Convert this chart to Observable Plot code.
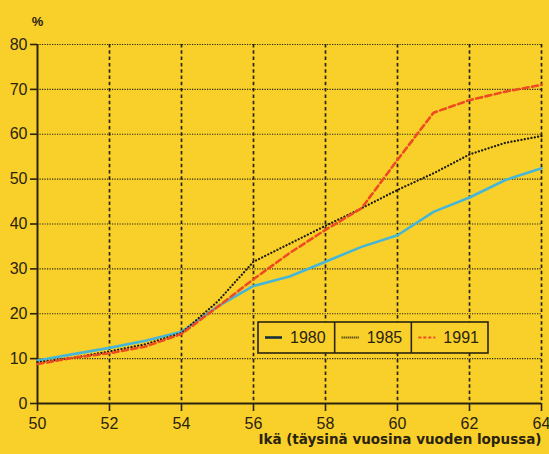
<!DOCTYPE html>
<html>
<head>
<meta charset="utf-8">
<script src="https://cdn.jsdelivr.net/npm/d3@7"></script>
<script src="https://cdn.jsdelivr.net/npm/@observablehq/plot@0.6"></script>
<style>
  html, body { margin: 0; padding: 0; background: #F9D02A; }
  #wrap { position: relative; width: 549px; height: 454px; }
  #legend { position: absolute; left: 0; top: 0; pointer-events: none; }
</style>
</head>
<body>
<div id="wrap"></div>
<script>
// ---- data ----
const ages = [50, 51, 52, 53, 54, 55, 56, 57, 58, 59, 60, 61, 62, 63, 64];
const v1980 = [9.6, 11.0, 12.4, 14.0, 16.0, 21.6, 26.2, 28.3, 31.6, 34.9, 37.5, 42.7, 45.9, 49.8, 52.4];
const v1985 = [9.2, 10.2, 11.6, 13.2, 15.7, 22.7, 31.6, 35.6, 39.6, 43.5, 47.6, 51.3, 55.5, 58.1, 59.6];
const v1991 = [8.8, 10.2, 11.2, 12.7, 15.5, 21.5, 27.7, 33.5, 38.7, 43.5, 54.3, 64.8, 67.6, 69.5, 71.0];
const seriesNames = ["1980", "1985", "1991"];
const xTicks = [50, 52, 54, 56, 58, 60, 62, 64];
const yTicks = [0, 10, 20, 30, 40, 50, 60, 70, 80];
const yUnit = "%";
const xLabel = "Ikä (täysinä vuosina vuoden lopussa)";

const ink = "#2a2310";
const bg = "#F9D02A";
const colors = {"1980": "#45B6D8", "1985": "#1e1a0c", "1991": "#EE4B22"};
const dashes = {"1980": null, "1985": "0.1,3.3", "1991": "6,3.5"};
const widths = {"1980": 2.6, "1985": 2.2, "1991": 2.6};

const rows = [];
[v1980, v1985, v1991].forEach((vals, i) => {
  ages.forEach((a, j) => rows.push({series: seriesNames[i], age: a, value: vals[j]}));
});

const lineMarks = seriesNames.map(s => Plot.line(rows.filter(d => d.series === s), {
  x: "age", y: "value",
  stroke: colors[s], strokeWidth: widths[s],
  strokeDasharray: dashes[s], strokeLinecap: "round", strokeLinejoin: "round"
}));

const chart = Plot.plot({
  width: 549, height: 454,
  marginLeft: 37, marginRight: 8, marginTop: 44, marginBottom: 51,
  style: {background: bg, fontSize: "16px", fontFamily: "Liberation Sans, Arial, sans-serif", color: ink},
  x: {domain: [50, 64]},
  y: {domain: [0, 80]},
  marks: [
    Plot.gridY(yTicks.filter(d => d > 0), {stroke: ink, strokeOpacity: 1, strokeWidth: 1.2, strokeDasharray: "1.2,1.3"}),
    Plot.gridX(xTicks.filter(d => d > 50), {stroke: ink, strokeOpacity: 1, strokeWidth: 1.7, strokeDasharray: "3.5,2.8"}),
    Plot.axisY({ticks: yTicks, tickSize: 7, tickPadding: 3, label: null, stroke: ink, strokeWidth: 1.6}),
    Plot.axisX({ticks: xTicks, tickSize: 8, tickPadding: 6, label: null, stroke: ink, strokeWidth: 1.6}),
    Plot.ruleX([50], {stroke: ink, strokeWidth: 2}),
    Plot.ruleY([0], {stroke: ink, strokeWidth: 2}),
    ...lineMarks,
    Plot.text([yUnit], {frameAnchor: "top-left", dy: -28, textAnchor: "middle", fontWeight: "bold", fontSize: 13, fill: ink}),
    Plot.text([xLabel], {frameAnchor: "bottom-right", dy: 40, textAnchor: "end", fontWeight: "bold", fontSize: 13.5, fill: ink, fontFamily: "DejaVu Sans, sans-serif"})
  ]
});
document.getElementById("wrap").appendChild(chart);

// ---- legend overlay ----
const lg = d3.select("#wrap").append("svg").attr("id", "legend").attr("width", 549).attr("height", 454);
const box = {x: 258, y: 322, w: 230, h: 31};
lg.append("rect").attr("x", box.x).attr("y", box.y).attr("width", box.w).attr("height", box.h)
  .attr("fill", bg).attr("stroke", ink).attr("stroke-width", 1.6);
const cellW = box.w / 3;
seriesNames.forEach((s, i) => {
  const x0 = box.x + i * cellW;
  if (i > 0) lg.append("line").attr("x1", x0).attr("x2", x0).attr("y1", box.y).attr("y2", box.y + box.h)
    .attr("stroke", ink).attr("stroke-width", 1.6);
  const cy = box.y + box.h / 2;
  lg.append("line").attr("x1", x0 + 7).attr("x2", x0 + 24).attr("y1", cy).attr("y2", cy)
    .attr("stroke", i === 0 ? "#16303a" : colors[s]).attr("stroke-width", i === 0 ? 2.6 : 1.8)
    .attr("stroke-dasharray", i === 0 ? null : (i === 1 ? "1,1" : "3,2"));
  lg.append("text").attr("x", x0 + 32).attr("y", cy).attr("dy", "0.35em")
    .attr("font-family", "Liberation Sans, Arial, sans-serif").attr("font-size", 16).attr("fill", ink).text(s);
});
</script>
</body>
</html>
